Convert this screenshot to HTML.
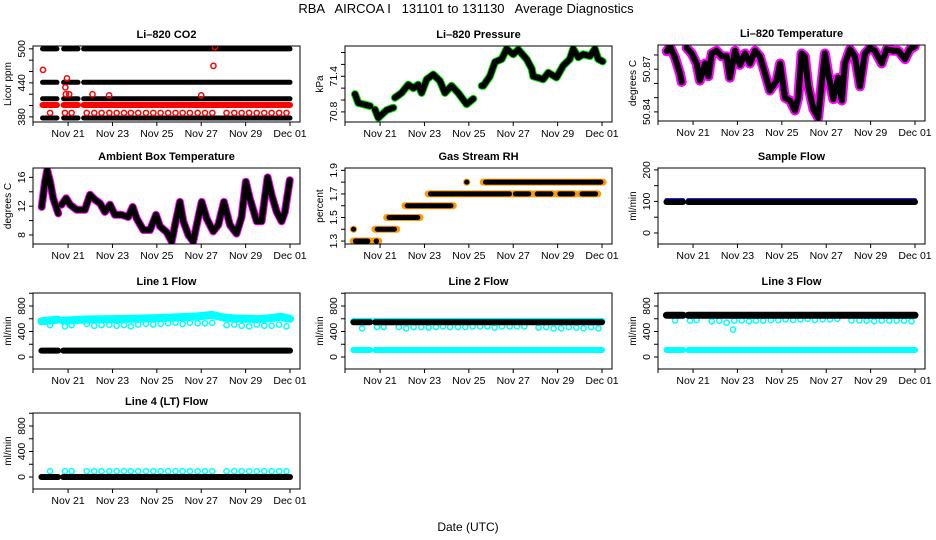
<!DOCTYPE html>
<html><head><meta charset="utf-8"><style>
html,body{margin:0;padding:0;background:#fff;}
svg{display:block;font-family:"Liberation Sans",sans-serif;}
</style></head><body>
<svg id="chart" width="936" height="540" viewBox="0 0 936 540">
<rect width="936" height="540" fill="#fff"/>
<text x="466" y="13" font-size="13" text-anchor="middle" xml:space="preserve">RBA   AIRCOA I   131101 to 131130   Average Diagnostics</text>
<text x="468" y="531" font-size="12" text-anchor="middle">Date (UTC)</text>
</svg>
<script>
// ---- shared data ----
const xTickDays = [21, 23, 25, 27, 29, 31];
const xTickLabels = ["Nov 21", "Nov 23", "Nov 25", "Nov 27", "Nov 29", "Dec 01"];
const calDays = [20.19,20.86,21.16,21.84,22.18,22.51,22.86,23.19,23.52,23.83,24.16,24.51,24.84,25.17,25.51,25.84,26.16,26.49,26.84,27.17,27.50,28.14,28.49,28.82,29.16,29.50,29.84,30.17,30.51,30.84];
const flowSegs = [19.8, 20.55, 20.78, 31.0];
// CO2
const co2Levels = [500, 441, 412, 378];
const co2Segs = [19.85, 20.5, 20.8, 21.45, 21.7, 31.0];
const co2RedLevel = [401];
const co2CircVals = [387,387,387,387,387,387,387,387,387,387,387,387,387,387,387,387,387,387,387,387,387,387,387,387,387,387,387,387,387,387];
const co2OutDays = [19.87, 20.88, 20.95, 20.9, 21.05, 22.1, 22.85, 27.0, 27.55, 27.62];
const co2OutVals = [463, 432, 448, 420, 420, 420, 418, 418, 470, 503];
// Pressure
const presDays = [19.87,20.02,20.55,null,20.77,20.92,21.3,21.6,null,21.67,21.97,22.27,22.5,22.72,22.87,23.1,23.4,23.7,23.92,24.22,24.52,24.9,25.2,null,25.58,25.65,25.95,26.18,26.48,26.7,27.0,27.23,27.6,27.83,27.9,28.35,28.58,28.95,29.25,29.55,29.7,29.93,30.15,30.46,30.68,30.83,31.03];
const presVals = [71.10,70.95,70.90,null,70.84,70.70,70.83,70.87,null,71.04,71.12,71.26,71.20,71.26,71.12,71.35,71.43,71.32,71.12,71.24,71.12,70.93,71.02,null,71.24,71.24,71.40,71.64,71.69,71.86,71.77,71.85,71.69,71.53,71.40,71.35,71.46,71.38,71.58,71.69,71.86,71.72,71.77,71.74,71.86,71.69,71.65];
// Li-820 temperature
const ltDays = [19.81,19.96,20.19,20.41,20.49,null,20.71,20.94,21.16,21.31,21.54,21.69,21.84,22.06,22.29,22.51,22.66,22.89,23.11,23.34,23.56,23.79,24.01,24.24,24.46,24.77,24.92,25.14,25.37,25.59,25.74,25.89,26.04,26.19,26.42,26.64,26.79,26.94,27.09,27.32,27.54,27.70,27.84,28.07,28.29,28.52,28.74,28.97,29.19,29.50,29.72,30.02,30.24,30.55,30.77,30.99];
const ltVals = [50.8826,50.886,50.878,50.867,50.861,null,50.885,50.881,50.874,50.862,50.874,50.865,50.881,50.883,50.879,50.879,50.864,50.883,50.873,50.881,50.874,50.883,50.879,50.867,50.855,50.862,50.874,50.850,50.848,50.841,50.850,50.881,50.879,50.858,50.842,50.836,50.860,50.881,50.867,50.849,50.864,50.848,50.874,50.884,50.879,50.858,50.881,50.885,50.883,50.874,50.884,50.883,50.883,50.877,50.884,50.886];
// Ambient box temperature
const abDays = [19.81,19.96,20.06,20.19,20.33,20.56,null,20.71,20.91,21.09,21.39,21.76,21.99,22.21,22.44,22.66,22.89,23.11,23.41,23.71,23.91,24.09,24.39,24.69,24.96,25.14,25.44,25.67,25.82,26.04,26.19,26.42,26.64,26.86,27.02,27.24,27.54,27.77,28.02,28.29,28.59,28.82,29.01,29.19,29.50,29.72,29.99,30.17,30.40,30.62,30.77,30.99];
const abVals = [11.9,15.4,17.0,15.4,13.1,11.0,null,12.2,13.1,12.2,11.5,11.5,13.6,12.9,12.4,11.2,12.2,10.8,10.8,10.5,11.9,10.3,8.7,8.7,10.8,9.2,8.4,7.1,9.4,12.6,9.9,8.0,7.1,10.3,12.6,10.3,8.5,9.4,12.6,9.4,8.2,10.5,15.4,13.1,9.9,9.9,16.0,13.6,11.2,9.9,11.2,15.6];
// Gas stream RH (level segments: level, start, end)
const rhLevels = [1.3, 1.3, 1.4, 1.4, 1.5, 1.6, 1.7, 1.7, 1.7, 1.7, 1.7, 1.8, 1.8];
const rhStarts = [19.79, 20.72, 19.80, 20.77, 21.30, 22.12, 23.17, 27.00, 27.98, 29.00, 30.00, 24.90, 25.65];
const rhEnds   = [20.55, 20.94, 19.81, 21.75, 22.80, 24.30, 26.93, 27.80, 28.80, 29.78, 30.81, 24.91, 31.05];
// Sample flow
const sfBlack = [98];
const sfBlue = [104];
// Line flows
const l1Black = [100];
const l1CyanLow = [122];
const l1UpDays = [19.8,20.2,20.55,null,20.78,21.5,22.0,23.0,24.0,25.0,26.0,26.8,27.5,28.0,28.5,29.0,29.5,30.0,30.6,31.0];
const l1UpVals = [560,575,585,null,570,585,590,595,600,610,625,635,660,620,605,600,595,605,630,600];
const l1Circ = [500,480,500,520,490,500,505,490,500,480,510,520,510,520,530,540,520,540,530,530,535,500,510,490,480,510,490,490,510,480];
const l2Black = [545];
const l2CyanUp = [558];
const l2CyanLow = [110];
const l2Circ = [450,470,470,470,450,470,470,460,470,480,470,470,470,480,480,480,460,480,480,480,480,460,470,450,450,470,460,450,470,450];
const l3Black = [655];
const l3CyanLow = [110];
const l3Circ = [575,570,580,560,570,540,570,575,560,570,570,580,580,590,580,590,600,580,590,590,600,575,575,570,560,570,570,570,570,560];
const l3OutDays = [22.8];
const l3OutVals = [430];
const l4Black = [0];
const l4Circ = [90,90,90,90,90,90,90,90,90,90,90,90,90,90,90,90,90,90,90,90,90,90,90,90,90,90,90,90,90,90];

// ---- drawing helpers ----
const NS = "http://www.w3.org/2000/svg";
const svg = document.getElementById("chart");
const X0 = 19.42, X1 = 31.45;
function el(tag, parent) { const e = document.createElementNS(NS, tag); parent.appendChild(e); return e; }

function makePanel(name, title, ytitle, left, top, ymin, ymax, yticks, ylabels) {
  const W = 267, H = 76;
  const g = el("g", svg);
  
  
  const xs = d => left + (d - X0) / (X1 - X0) * W;
  const ys = v => top + H - (v - ymin) / (ymax - ymin) * H;
  const cid = "clip-" + name;
  const cp = el("clipPath", g); cp.setAttribute("id", cid);
  const cr = el("rect", cp); cr.setAttribute("x", left); cr.setAttribute("y", top); cr.setAttribute("width", W); cr.setAttribute("height", H);
  const data = el("g", g); data.setAttribute("clip-path", "url(#" + cid + ")");
  
  
  const box = el("rect", g);
  box.setAttribute("x", left); box.setAttribute("y", top); box.setAttribute("width", W); box.setAttribute("height", H);
  box.setAttribute("fill", "none"); box.setAttribute("stroke", "#000"); box.setAttribute("stroke-width", "1");
  
  
  const t = el("text", g);
  t.setAttribute("x", left + W / 2); t.setAttribute("y", top - 8); t.setAttribute("text-anchor", "middle");
  t.setAttribute("font-size", "11"); t.setAttribute("font-weight", "bold"); t.textContent = title;
  
  
  // x axis
  const xa = el("g", g);
  
  
  const xl = el("line", xa);
  xl.setAttribute("x1", left); xl.setAttribute("x2", xs(xTickDays[xTickDays.length - 1]));
  xl.setAttribute("y1", top + H); xl.setAttribute("y2", top + H); xl.setAttribute("stroke", "#000");
  const edges = [X0].concat(xTickDays);
  edges.forEach(d => {
    const tk = el("line", xa);
    tk.setAttribute("x1", xs(d)); tk.setAttribute("x2", xs(d)); tk.setAttribute("y1", top + H); tk.setAttribute("y2", top + H + 4);
    tk.setAttribute("stroke", "#000");
    
    
  });
  xTickDays.forEach((d, i) => {
    const lb = el("text", xa);
    lb.setAttribute("x", xs(d)); lb.setAttribute("y", top + H + 15); lb.setAttribute("text-anchor", "middle");
    lb.setAttribute("font-size", "10.5"); lb.textContent = xTickLabels[i];
    
    
  });
  // y axis
  const ya = el("g", g);
  
  
  yticks.forEach(v => {
    const tk = el("line", ya);
    tk.setAttribute("x1", left - 4); tk.setAttribute("x2", left); tk.setAttribute("y1", ys(v)); tk.setAttribute("y2", ys(v));
    tk.setAttribute("stroke", "#000");
    
    
  });
  ylabels.forEach(v => {
    const lb = el("text", ya);
    const yy = ys(v);
    lb.setAttribute("x", left - 8); lb.setAttribute("y", yy); lb.setAttribute("text-anchor", "middle");
    lb.setAttribute("transform", "rotate(-90 " + (left - 8) + " " + yy + ")");
    lb.setAttribute("font-size", "10.5"); lb.textContent = String(v);
    
    
  });
  const yt = el("text", g);
  const cy = top + H / 2;
  yt.setAttribute("x", left - 22); yt.setAttribute("y", cy); yt.setAttribute("text-anchor", "middle");
  yt.setAttribute("transform", "rotate(-90 " + (left - 22) + " " + cy + ")");
  yt.setAttribute("font-size", "10"); yt.textContent = ytitle;
  
  
  return { data, xs, ys };
}
function pathLine(p, days, vals, color, w, nm) {
  let d = "", pen = false;
  for (let i = 0; i < days.length; i++) {
    if (days[i] === null || vals[i] === null) { pen = false; continue; }
    d += (pen ? "L" : "M") + p.xs(days[i]).toFixed(1) + " " + p.ys(vals[i]).toFixed(1);
    pen = true;
  }
  const e = el("path", p.data);
  e.setAttribute("d", d); e.setAttribute("fill", "none"); e.setAttribute("stroke", color);
  e.setAttribute("stroke-width", w); e.setAttribute("stroke-linecap", "round"); e.setAttribute("stroke-linejoin", "round");
  
  
}
function levelSegs(p, level, segs, color, w, nm) {
  for (let i = 0; i < segs.length; i += 2) {
    const e = el("line", p.data);
    e.setAttribute("x1", p.xs(segs[i])); e.setAttribute("x2", p.xs(segs[i + 1]));
    e.setAttribute("y1", p.ys(level)); e.setAttribute("y2", p.ys(level));
    e.setAttribute("stroke", color); e.setAttribute("stroke-width", w); e.setAttribute("stroke-linecap", "round");
    
    
  }
}
function circles(p, days, vals, color, nm) {
  days.forEach((d, i) => {
    const c = el("circle", p.data);
    c.setAttribute("cx", p.xs(d)); c.setAttribute("cy", p.ys(vals[i])); c.setAttribute("r", 2.6);
    c.setAttribute("fill", "none"); c.setAttribute("stroke", color); c.setAttribute("stroke-width", 1.5);
    
    
  });
}
const flowTicks = [0, 200, 400, 600, 800, 1000], flowLabels = [0, 400, 800];
const CY = "#00ffff", MG = "#ff00ff";

// CO2
let p = makePanel("co2", "Li\u2013820 CO2", "Licor ppm", 33, 46, 371, 505, [380, 400, 420, 440, 460, 480, 500], [380, 440, 500]);
co2Levels.forEach(L => levelSegs(p, L, co2Segs, "#000", 5, "co2-black-band"));
co2RedLevel.forEach(L => levelSegs(p, L, co2Segs, "#ff0000", 6, "co2-red-band"));
circles(p, calDays, co2CircVals, "#ff0000", "co2-red-circle");
circles(p, co2OutDays, co2OutVals, "#ff0000", "co2-red-outlier");

// Pressure
p = makePanel("pressure", "Li\u2013820 Pressure", "kPa", 345, 46, 70.63, 71.91, [70.8, 71.0, 71.2, 71.4, 71.6, 71.8], [70.8, 71.4]);
pathLine(p, presDays, presVals, "#00dd00", 8, "pressure-green");
pathLine(p, presDays, presVals, "#000", 6, "pressure-black");

// Li-820 temperature
p = makePanel("li-temp", "Li\u2013820 Temperature", "degrees C", 658, 45, 50.8336, 50.887, [50.84, 50.85, 50.86, 50.87, 50.88], [50.84, 50.87]);
pathLine(p, ltDays, ltVals, MG, 10, "li-temp-magenta");
pathLine(p, ltDays, ltVals, "#000", 6, "li-temp-black");

// Ambient
p = makePanel("ambient", "Ambient Box Temperature", "degrees C", 33, 168, 6.75, 17.3, [8, 10, 12, 14, 16], [8, 12, 16]);
pathLine(p, abDays, abVals, MG, 8, "ambient-magenta");
pathLine(p, abDays, abVals, "#000", 6, "ambient-black");

// RH
p = makePanel("rh", "Gas Stream RH", "percent", 345, 168, 1.275, 1.92, [1.3, 1.4, 1.5, 1.6, 1.7, 1.8, 1.9], [1.3, 1.5, 1.7, 1.9]);
rhLevels.forEach((L, i) => levelSegs(p, L, [rhStarts[i], rhEnds[i]], "#ff9900", 7, "rh-orange"));
rhLevels.forEach((L, i) => levelSegs(p, L, [rhStarts[i] + 0.12 < rhEnds[i] ? rhStarts[i] + 0.1 : rhStarts[i], rhEnds[i] - 0.12 > rhStarts[i] ? rhEnds[i] - 0.1 : rhEnds[i]], "#000", 5, "rh-black"));

// Sample flow
p = makePanel("sample-flow", "Sample Flow", "ml/min", 658, 168, -35, 206, [0, 50, 100, 150, 200], [0, 100, 200]);
sfBlue.forEach(L => levelSegs(p, L, flowSegs, "#0000ff", 4, "sample-flow-blue"));
sfBlack.forEach(L => levelSegs(p, L, flowSegs, "#000", 6, "sample-flow-black"));

// Line 1
p = makePanel("line1", "Line 1 Flow", "ml/min", 33, 293, -188, 1004, flowTicks, flowLabels);
pathLine(p, l1UpDays, l1UpVals, CY, 8, "line1-cyan-upper");
circles(p, calDays, l1Circ, CY, "line1-cyan-circle");
l1CyanLow.forEach(L => levelSegs(p, L, flowSegs, CY, 3, "line1-cyan-low"));
l1Black.forEach(L => levelSegs(p, L, flowSegs, "#000", 6, "line1-black"));

// Line 2
p = makePanel("line2", "Line 2 Flow", "ml/min", 345, 293, -188, 1004, flowTicks, flowLabels);
l2CyanUp.forEach(L => levelSegs(p, L, flowSegs, CY, 7, "line2-cyan-upper"));
circles(p, calDays, l2Circ, CY, "line2-cyan-circle");
l2CyanLow.forEach(L => levelSegs(p, L, flowSegs, CY, 6, "line2-cyan-low"));
l2Black.forEach(L => levelSegs(p, L, flowSegs, "#000", 6, "line2-black"));

// Line 3
p = makePanel("line3", "Line 3 Flow", "ml/min", 658, 293, -188, 1004, flowTicks, flowLabels);
circles(p, calDays, l3Circ, CY, "line3-cyan-circle");
circles(p, l3OutDays, l3OutVals, CY, "line3-cyan-outlier");
l3CyanLow.forEach(L => levelSegs(p, L, flowSegs, CY, 6, "line3-cyan-low"));
l3Black.forEach(L => levelSegs(p, L, flowSegs, "#000", 7, "line3-black"));

// Line 4
p = makePanel("line4", "Line 4 (LT) Flow", "ml/min", 33, 413, -188, 1004, flowTicks, flowLabels);
circles(p, calDays, l4Circ, CY, "line4-cyan-circle");
l4Black.forEach(L => levelSegs(p, L, flowSegs, "#000", 6, "line4-black"));
</script>
</body></html>
